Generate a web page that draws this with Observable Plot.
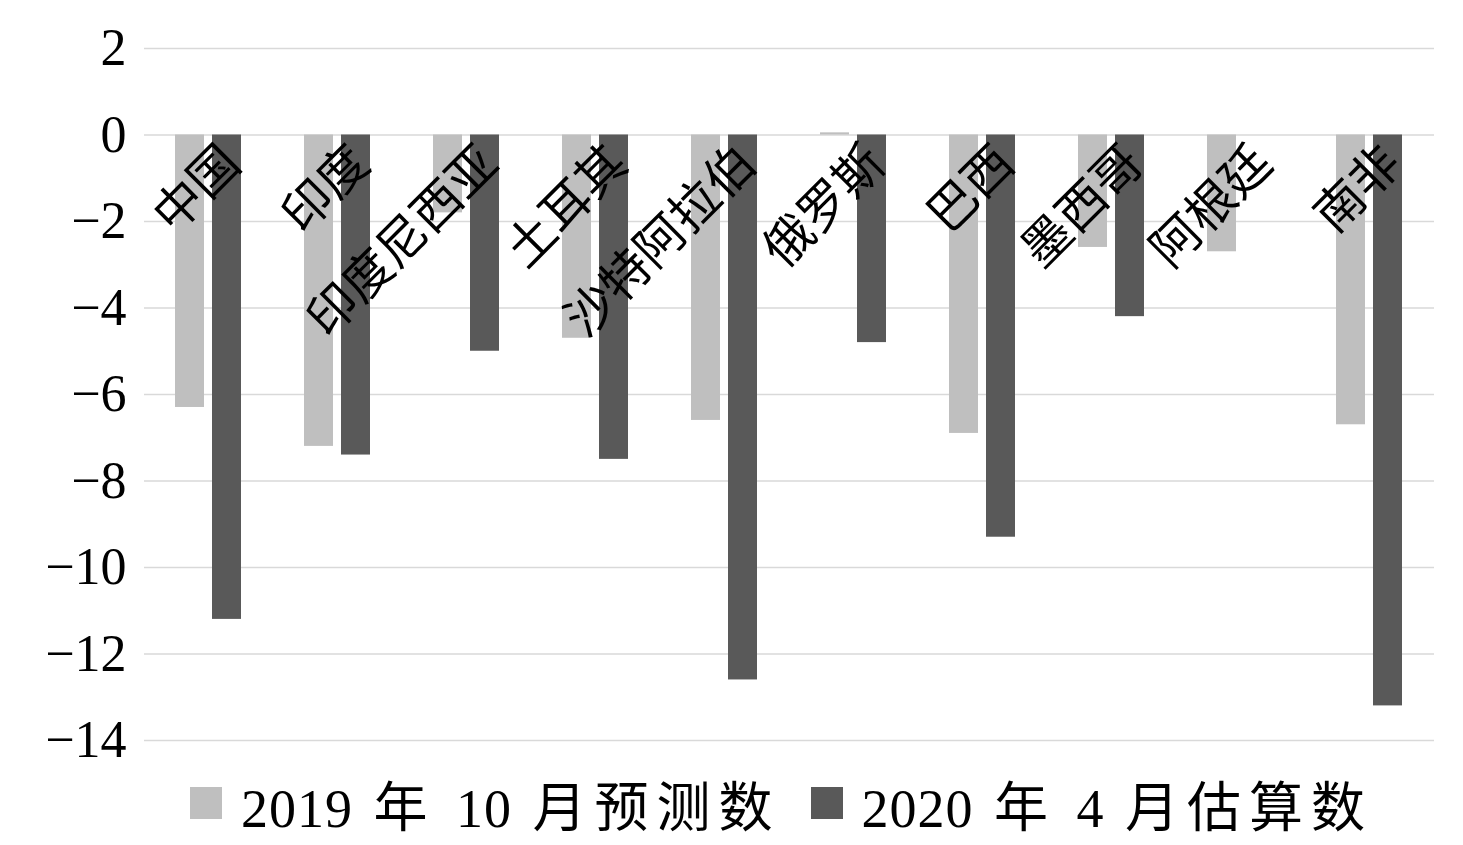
<!DOCTYPE html>
<html>
<head>
<meta charset="utf-8">
<script src="https://cdn.jsdelivr.net/npm/d3@7"></script>
<script src="https://cdn.jsdelivr.net/npm/@observablehq/plot@0.6"></script>
<style>
  body { margin: 0; background: #fff; }
  #legend {
    display: flex; align-items: center; height: 86px; margin-left: 190px;
    font-size: 54px; color: #000; white-space: nowrap;
  }
  #legend .item { display: flex; align-items: center; margin-right: 30px; }
  #legend .sw { width: 32px; height: 32px; margin-right: 19px; flex: none; }
  #legend .lat { font-family: "Liberation Serif", serif; letter-spacing: 1px; word-spacing: 6px; }
  #legend .cjk { font-family: "Noto Sans CJK SC", sans-serif; letter-spacing: 8px; }
</style>
</head>
<body>
<div id="chart"></div>
<div id="legend"></div>
<script>
const categories = ["中国", "印度", "印度尼西亚", "土耳其", "沙特阿拉伯", "俄罗斯", "巴西", "墨西哥", "阿根廷", "南非"];
const series = ["2019 年 10 月预测数", "2020 年 4 月估算数"];
const oct2019 = [-6.3, -7.2, -1.8, -4.7, -6.6, 0.05, -6.9, -2.6, -2.7, -6.7];
const apr2020 = [-11.2, -7.4, -5.0, -7.5, -12.6, -4.8, -9.3, -4.2, null, -13.2];
const yTicks = [2, 0, -2, -4, -6, -8, -10, -12, -14];
const colors = ["#bfbfbf", "#595959"];

const rows = categories.flatMap((c, i) => [
  {category: c, series: series[0], value: oct2019[i]},
  {category: c, series: series[1], value: apr2020[i]}
]).filter(d => d.value != null);

const chart = Plot.plot({
  width: 1463,
  height: 760,
  marginLeft: 143,
  marginRight: 28,
  marginTop: 48,
  marginBottom: 20,
  style: {fontFamily: '"Liberation Serif", serif', color: "#000", background: "#fff", overflow: "visible"},
  fx: {domain: categories, padding: 0, axis: null},
  x: {domain: series, paddingInner: 0.216, paddingOuter: 0.85, axis: null},
  y: {domain: [-14, 2], axis: null},
  color: {domain: series, range: colors},
  marks: [
    Plot.ruleY(yTicks, {stroke: "#d9d9d9", strokeWidth: 1.5}),
    Plot.barY(rows, {fx: "category", x: "series", y: "value", fill: "series"}),
    Plot.text(categories, {
      fx: d => d, y: () => 0, text: d => d,
      rotate: -45, textAnchor: "end", lineAnchor: "bottom",
      fontSize: 49, dx: 34, dy: 31, fill: "#000",
      fontFamily: '"Noto Sans CJK SC", sans-serif'
    }),
    Plot.axisY(yTicks, {tickSize: 0, tickPadding: 18, fontSize: 52, label: null, fill: "#000"})
  ]
});
document.getElementById("chart").appendChild(chart);

const legend = d3.select("#legend");
series.forEach((s, i) => {
  const item = legend.append("div").attr("class", "item");
  item.append("div").attr("class", "sw").style("background", colors[i]);
  const label = item.append("span");
  s.split(/([\u4e00-\u9fff]+)/).filter(t => t.length).forEach(t => {
    label.append("span")
      .attr("class", /[\u4e00-\u9fff]/.test(t) ? "cjk" : "lat")
      .text(t);
  });
});
</script>
</body>
</html>
